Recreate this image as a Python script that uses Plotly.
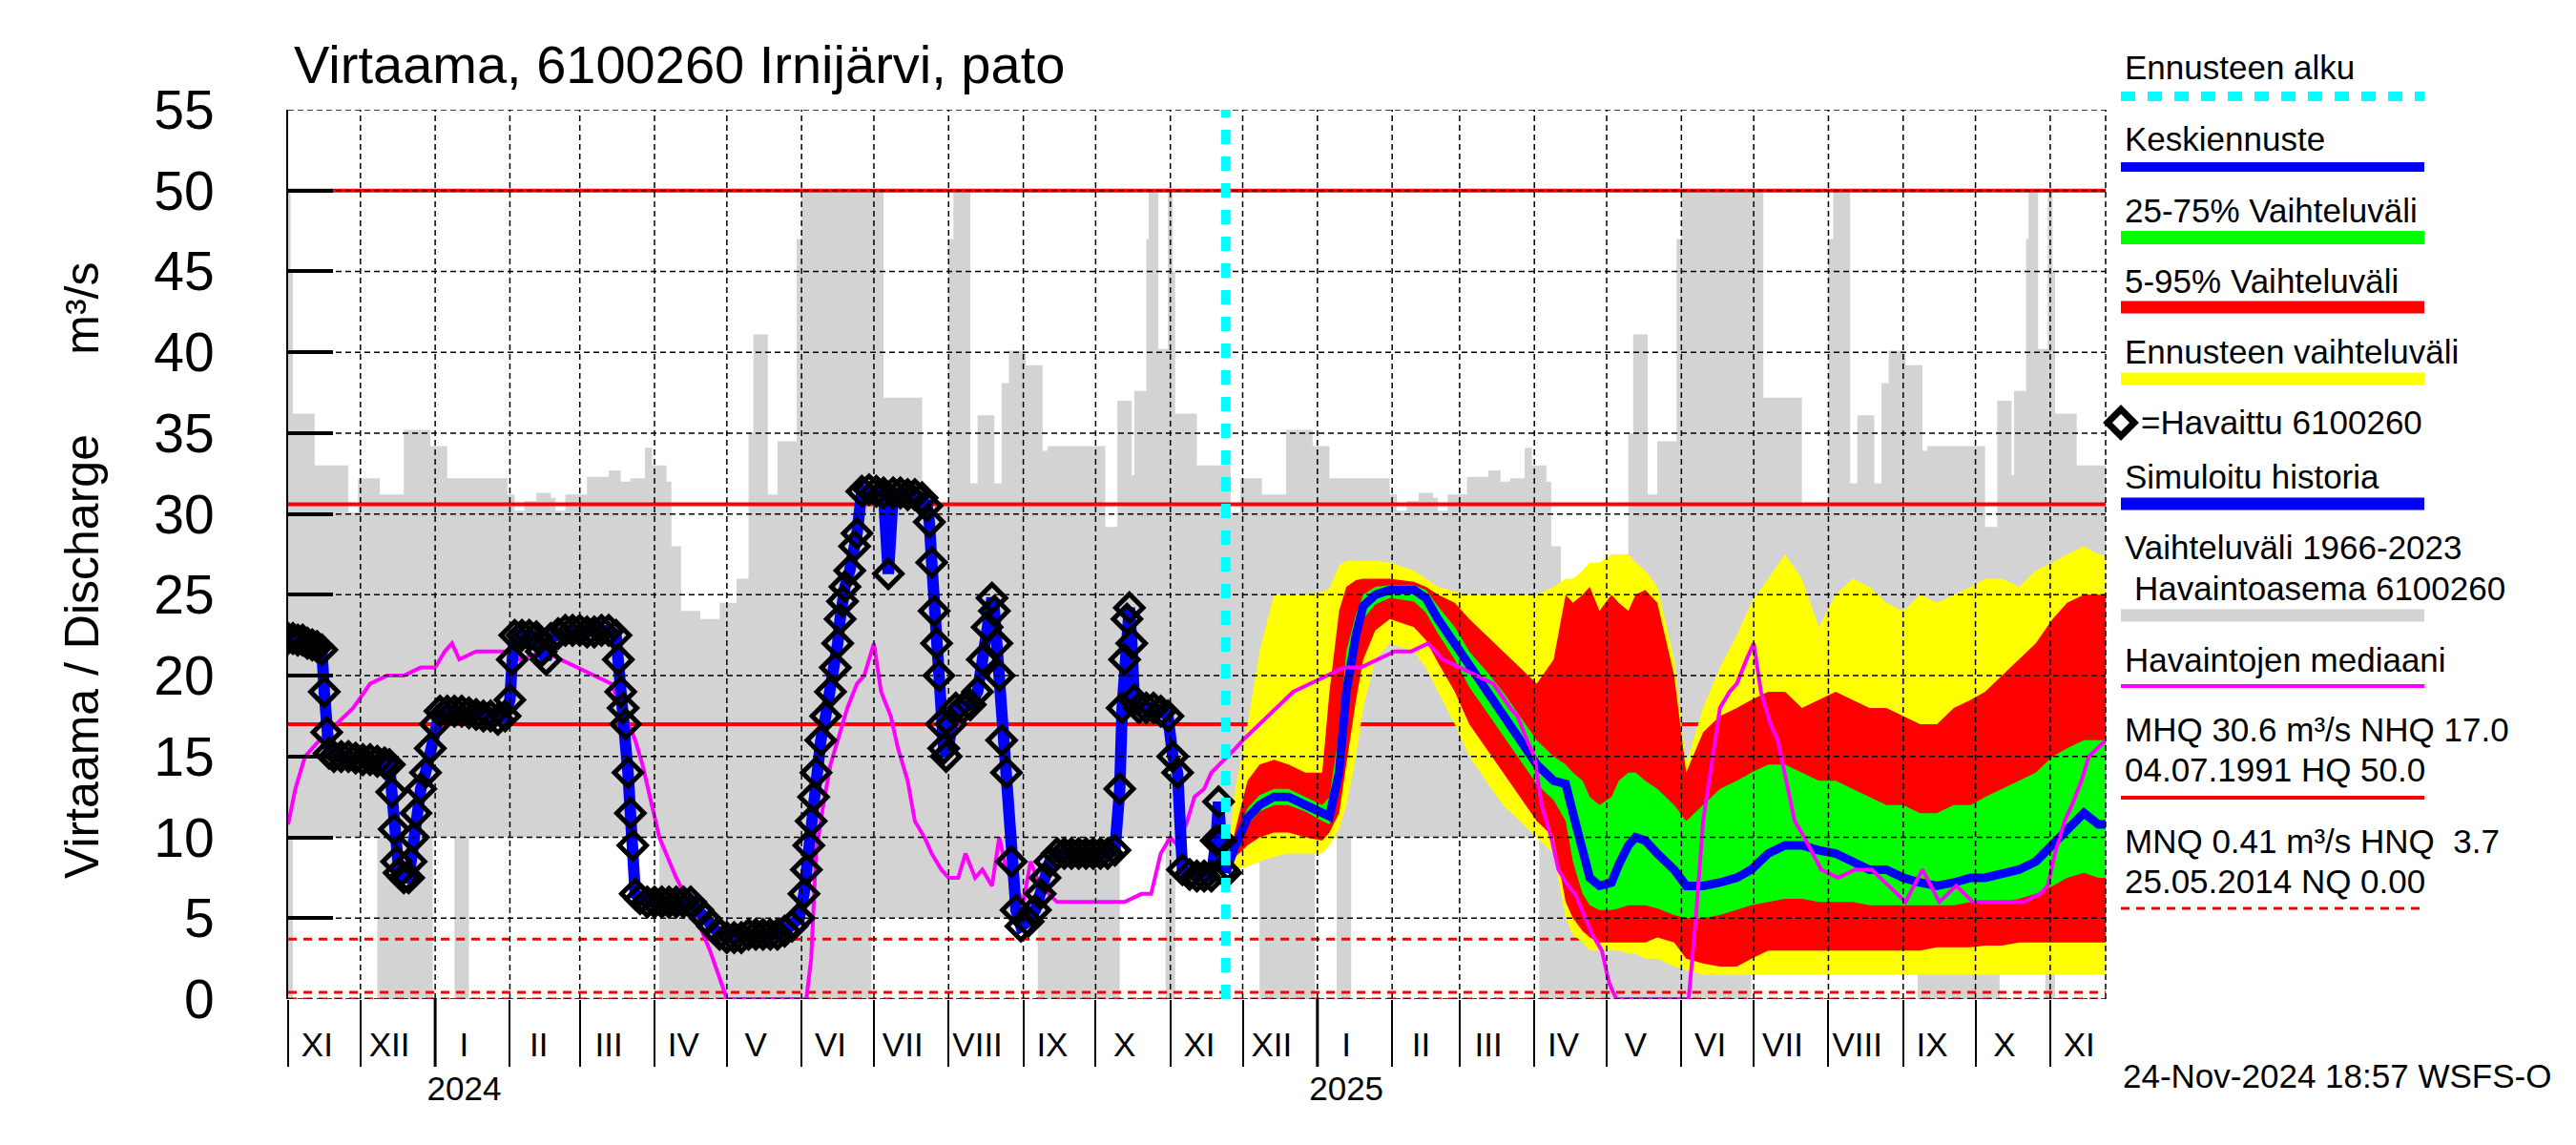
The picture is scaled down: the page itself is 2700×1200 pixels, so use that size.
import plotly.graph_objects as go
import pandas as pd

# ---------------- data ----------------
title_text = "Virtaama, 6100260 Irnijärvi, pato"
y_title = "Virtaama / Discharge" + "\u00a0" * 6 + "m³/s"
stamp_text = "24-Nov-2024 18:57 WSFS-O"
x_start = "2023-11-01"
x_end = "2025-11-24"
forecast_start = "2024-11-24"

y_ticks = [0, 5, 10, 15, 20, 25, 30, 35, 40, 45, 50, 55]
roman = ["I", "II", "III", "IV", "V", "VI", "VII", "VIII", "IX", "X", "XI", "XII"]

HQ, MHQ, NHQ = 50.0, 30.6, 17.0
HNQ, MNQ, NQ = 3.7, 0.41, 0.0

# historical range 1966-2023 (day-of-year profile, step values)
grey_up_profile = [
    ("11-01", 50.0), ("11-02", 45.0), ("11-03", 36.2), ("11-12", 33.0), ("11-26", 30.1),
    ("11-30", 32.2), ("12-09", 31.2), ("12-19", 35.2), ("12-30", 34.2), ("01-06", 32.2),
    ("01-31", 31.2), ("02-03", 30.2), ("02-07", 30.8), ("02-12", 31.3), ("02-18", 31.0),
    ("02-20", 30.2), ("02-24", 31.2), ("03-04", 32.3), ("03-13", 32.7), ("03-18", 32.0),
    ("03-22", 32.2), ("03-28", 34.1), ("03-31", 33.0), ("04-06", 32.0), ("04-08", 28.0),
    ("04-12", 24.0), ("04-20", 23.5), ("04-28", 24.5), ("05-05", 26.0), ("05-10", 35.0),
    ("05-12", 41.1), ("05-18", 31.2), ("05-22", 34.5), ("05-30", 47.0), ("06-01", 50.0),
    ("07-05", 37.2), ("07-21", 30.5), ("08-01", 47.0), ("08-03", 50.0), ("08-10", 31.9),
    ("08-13", 36.1), ("08-20", 31.9), ("08-23", 38.1), ("08-26", 40.1), ("09-02", 39.2),
    ("09-09", 33.9), ("09-11", 34.2), ("10-05", 29.2), ("10-10", 37.0), ("10-16", 32.4),
    ("10-17", 37.6), ("10-22", 47.0), ("10-23", 50.0), ("10-27", 40.2), ("10-31", 50.0),
]
grey_lo_profile = [
    ("11-01", 0.0), ("11-03", 10.0), ("12-08", 0.0), ("12-31", 10.0), ("01-09", 0.0),
    ("01-15", 10.0), ("04-03", 0.0), ("06-30", 5.0), ("09-07", 0.0), ("10-11", 10.0),
    ("10-30", 0.0),
]

# observed discharge 6100260
obs_dates = [
    "2023-11-01", "2023-11-03", "2023-11-05", "2023-11-07", "2023-11-09", "2023-11-11", "2023-11-13",
    "2023-11-15", "2023-11-16", "2023-11-17", "2023-11-18", "2023-11-20", "2023-11-23", "2023-11-26",
    "2023-11-29", "2023-12-02", "2023-12-05", "2023-12-08", "2023-12-11", "2023-12-13", "2023-12-14",
    "2023-12-15", "2023-12-16", "2023-12-17", "2023-12-19", "2023-12-21", "2023-12-22", "2023-12-23",
    "2023-12-24", "2023-12-26", "2023-12-28", "2023-12-30", "2024-01-01", "2024-01-03", "2024-01-06",
    "2024-01-09", "2024-01-12", "2024-01-15", "2024-01-18", "2024-01-21", "2024-01-24", "2024-01-27",
    "2024-01-30", "2024-02-01", "2024-02-02", "2024-02-03", "2024-02-06", "2024-02-09", "2024-02-12",
    "2024-02-14", "2024-02-16", "2024-02-18", "2024-02-21", "2024-02-24", "2024-02-27", "2024-03-01",
    "2024-03-04", "2024-03-07", "2024-03-10", "2024-03-13", "2024-03-16", "2024-03-17", "2024-03-18",
    "2024-03-19", "2024-03-20", "2024-03-21", "2024-03-22", "2024-03-23", "2024-03-24", "2024-03-26",
    "2024-03-29", "2024-04-01", "2024-04-04", "2024-04-07", "2024-04-10", "2024-04-13", "2024-04-16",
    "2024-04-19", "2024-04-22", "2024-04-25", "2024-04-28", "2024-05-01", "2024-05-04", "2024-05-07",
    "2024-05-10", "2024-05-13", "2024-05-16", "2024-05-19", "2024-05-22", "2024-05-25", "2024-05-28",
    "2024-05-31", "2024-06-02", "2024-06-03", "2024-06-04", "2024-06-05", "2024-06-06", "2024-06-07",
    "2024-06-09", "2024-06-11", "2024-06-13", "2024-06-15", "2024-06-16", "2024-06-17", "2024-06-18",
    "2024-06-19", "2024-06-21", "2024-06-23", "2024-06-24", "2024-06-26", "2024-06-29", "2024-07-02",
    "2024-07-05", "2024-07-07", "2024-07-09", "2024-07-12", "2024-07-15", "2024-07-18", "2024-07-21",
    "2024-07-23", "2024-07-24", "2024-07-25", "2024-07-26", "2024-07-27", "2024-07-28", "2024-07-29",
    "2024-07-30", "2024-07-31", "2024-08-02", "2024-08-04", "2024-08-07", "2024-08-10", "2024-08-13",
    "2024-08-15", "2024-08-17", "2024-08-19", "2024-08-20", "2024-08-21", "2024-08-22", "2024-08-23",
    "2024-08-25", "2024-08-27", "2024-08-29", "2024-08-31", "2024-09-03", "2024-09-06", "2024-09-08",
    "2024-09-10", "2024-09-12", "2024-09-15", "2024-09-18", "2024-09-21", "2024-09-24", "2024-09-27",
    "2024-09-30", "2024-10-03", "2024-10-06", "2024-10-09", "2024-10-11", "2024-10-12", "2024-10-13",
    "2024-10-14", "2024-10-15", "2024-10-16", "2024-10-17", "2024-10-19", "2024-10-22", "2024-10-25",
    "2024-10-28", "2024-10-31", "2024-11-02", "2024-11-04", "2024-11-06", "2024-11-09", "2024-11-12",
    "2024-11-15", "2024-11-18", "2024-11-20", "2024-11-21", "2024-11-22", "2024-11-23", "2024-11-24",
]
obs_q = [
    22.3, 22.3, 22.2, 22.2, 22.0, 21.9, 21.8,
    21.6, 19.0, 16.5, 15.2, 15.0, 15.0, 15.0,
    14.9, 14.8, 14.8, 14.7, 14.6, 14.5, 12.8,
    10.5, 8.5, 7.8, 7.5, 7.5, 8.5, 10.0,
    11.5, 13.0, 14.0, 15.5, 17.0, 17.8, 17.8,
    17.8, 17.8, 17.7, 17.6, 17.5, 17.5, 17.3,
    17.5, 18.5, 21.0, 22.5, 22.5, 22.5, 22.4,
    21.5, 21.0, 22.3, 22.6, 22.8, 22.8, 22.8,
    22.7, 22.7, 22.8, 22.8, 22.5, 21.0, 19.0,
    18.0, 17.0, 14.0, 11.5, 9.5, 6.5, 6.2,
    6.0, 6.0, 6.0, 6.0, 6.0, 6.0, 6.0,
    5.5, 5.0, 4.5, 4.0, 3.8, 3.8, 3.8,
    4.0, 4.0, 4.0, 4.0, 4.0, 4.2, 4.5,
    5.0, 6.5, 8.0, 9.5, 11.0, 12.5, 14.0,
    16.0, 17.5, 19.0, 20.5, 22.0, 23.5, 24.6,
    25.5, 26.5, 28.0, 28.8, 31.4, 31.5, 31.4,
    31.3, 26.3, 31.3, 31.3, 31.2, 31.2, 31.0,
    30.5, 29.5, 27.0, 24.0, 22.0, 20.0, 17.0,
    15.5, 15.0, 17.0, 18.0, 18.0, 18.2, 19.0,
    21.0, 23.0, 24.8, 24.0, 22.0, 20.0, 16.0,
    14.0, 8.5, 5.5, 4.5, 4.8, 5.5, 6.5,
    7.5, 8.5, 9.0, 9.0, 9.0, 9.0, 9.0,
    9.0, 9.0, 9.0, 9.2, 13.0, 18.0, 21.0,
    23.5, 24.2, 22.0, 18.5, 18.0, 18.0, 18.0,
    17.8, 17.5, 15.0, 14.0, 8.0, 7.7, 7.6,
    7.6, 7.6, 9.8, 12.2, 9.8, 8.0, 7.8,
]

# median of observations
med_dates = [
    "2023-11-01", "2023-11-04", "2023-11-08", "2023-11-14", "2023-11-21", "2023-11-28", "2023-12-05",
    "2023-12-12", "2023-12-19", "2023-12-26", "2024-01-01", "2024-01-05", "2024-01-08", "2024-01-11",
    "2024-01-18", "2024-01-25", "2024-02-01", "2024-02-05", "2024-02-15", "2024-02-22", "2024-02-29",
    "2024-03-07", "2024-03-14", "2024-03-20", "2024-03-24", "2024-03-27", "2024-03-31", "2024-04-03",
    "2024-04-10", "2024-04-17", "2024-04-24", "2024-05-01", "2024-06-03", "2024-06-05", "2024-06-07",
    "2024-06-10", "2024-06-13", "2024-06-17", "2024-06-20", "2024-06-24", "2024-06-27", "2024-07-01",
    "2024-07-04", "2024-07-08", "2024-07-11", "2024-07-15", "2024-07-18", "2024-07-22", "2024-07-25",
    "2024-07-29", "2024-08-01", "2024-08-05", "2024-08-08", "2024-08-12", "2024-08-15", "2024-08-19",
    "2024-08-22", "2024-08-25", "2024-09-01", "2024-09-04", "2024-09-08", "2024-09-15", "2024-09-22",
    "2024-09-29", "2024-10-06", "2024-10-13", "2024-10-20", "2024-10-24", "2024-10-28", "2024-11-01",
    "2024-11-04", "2024-11-08", "2024-11-11", "2024-11-15", "2024-11-18", "2024-11-25", "2024-11-28",
    "2024-12-01", "2024-12-08", "2024-12-15", "2024-12-22", "2024-12-29", "2025-01-05", "2025-01-12",
    "2025-01-19", "2025-01-26", "2025-02-02", "2025-02-09", "2025-02-16", "2025-02-22", "2025-03-01",
    "2025-03-08", "2025-03-15", "2025-03-22", "2025-03-25", "2025-03-29", "2025-04-01", "2025-04-04",
    "2025-04-08", "2025-04-11", "2025-04-15", "2025-04-18", "2025-04-22", "2025-04-25", "2025-04-29",
    "2025-05-02", "2025-05-05", "2025-06-04", "2025-06-07", "2025-06-10", "2025-06-14", "2025-06-17",
    "2025-06-21", "2025-06-24", "2025-06-28", "2025-07-01", "2025-07-04", "2025-07-08", "2025-07-11",
    "2025-07-15", "2025-07-18", "2025-07-22", "2025-07-29", "2025-08-05", "2025-08-12", "2025-08-19",
    "2025-08-26", "2025-09-02", "2025-09-09", "2025-09-16", "2025-09-23", "2025-09-30", "2025-10-07",
    "2025-10-14", "2025-10-21", "2025-10-28", "2025-10-31", "2025-11-03", "2025-11-07", "2025-11-10",
    "2025-11-14", "2025-11-17", "2025-11-24",
]
med_q = [
    10.8, 13.0, 15.0, 16.0, 17.0, 18.0, 19.5,
    20.0, 20.0, 20.5, 20.5, 21.5, 22.0, 21.0,
    21.5, 21.5, 21.5, 21.0, 21.5, 21.0, 20.5,
    20.0, 19.5, 17.5, 16.0, 14.5, 12.0, 10.0,
    7.5, 5.5, 3.0, 0.0, 0.0, 2.5, 9.0,
    12.0, 14.5, 16.5, 18.0, 19.5, 20.0, 22.0,
    19.0, 17.5, 15.5, 13.5, 11.0, 10.0, 9.0,
    8.0, 7.5, 7.5, 9.0, 7.5, 8.0, 7.0,
    10.0, 8.0, 6.0, 8.5, 7.0, 6.0, 6.0,
    6.0, 6.0, 6.0, 6.5, 6.5, 9.0, 10.0,
    9.5, 11.0, 12.5, 13.0, 14.0, 15.0, 15.5,
    16.0, 17.0, 18.0, 19.0, 19.5, 20.0, 20.5,
    20.5, 21.0, 21.5, 21.5, 22.0, 21.0, 20.5,
    20.0, 19.5, 18.0, 17.5, 16.0, 15.0, 12.0,
    10.0, 8.0, 7.0, 6.5, 5.0, 4.0, 3.0,
    1.0, 0.0, 0.0, 5.0, 11.0, 15.0, 18.0,
    19.0, 19.5, 21.0, 22.0, 19.0, 17.0, 16.0,
    13.0, 11.0, 10.0, 8.0, 7.5, 8.0, 8.0,
    7.0, 6.0, 8.0, 6.0, 7.0, 6.0, 6.0,
    6.0, 6.0, 6.5, 7.0, 9.0, 11.0, 12.0,
    13.5, 15.0, 16.0,
]

# forecast ensemble statistics
fc_dates = [
    "2024-11-24", "2024-11-28", "2024-12-03", "2024-12-08", "2024-12-14", "2024-12-20", "2024-12-27",
    "2025-01-03", "2025-01-06", "2025-01-10", "2025-01-13", "2025-01-17", "2025-01-20", "2025-01-25",
    "2025-01-31", "2025-02-10", "2025-02-15", "2025-02-20", "2025-02-27", "2025-03-05", "2025-03-12",
    "2025-03-19", "2025-03-26", "2025-04-02", "2025-04-09", "2025-04-14", "2025-04-17", "2025-04-21",
    "2025-04-24", "2025-04-28", "2025-05-03", "2025-05-06", "2025-05-10", "2025-05-13", "2025-05-17",
    "2025-05-22", "2025-05-29", "2025-06-03", "2025-06-10", "2025-06-17", "2025-06-24", "2025-06-30",
    "2025-07-07", "2025-07-14", "2025-07-21", "2025-07-28", "2025-08-04", "2025-08-11", "2025-08-18",
    "2025-08-25", "2025-09-01", "2025-09-08", "2025-09-15", "2025-09-22", "2025-09-29", "2025-10-05",
    "2025-10-12", "2025-10-19", "2025-10-26", "2025-11-02", "2025-11-08", "2025-11-15", "2025-11-21",
    "2025-11-24",
]
fc_min = [
    7.8, 8.0, 8.2, 8.5, 8.8, 9.0, 9.0,
    9.0, 9.5, 10.5, 12.0, 15.0, 18.0, 21.0,
    22.0, 21.5, 20.5, 19.0, 17.0, 15.0, 13.5,
    12.0, 11.0, 10.0, 9.0, 5.0, 4.0, 3.5,
    3.0, 3.0, 3.0, 3.0, 2.8, 2.8, 2.5,
    2.5, 2.0, 1.8, 1.5, 1.5, 1.5, 1.5,
    1.5, 1.5, 1.5, 1.5, 1.5, 1.5, 1.5,
    1.5, 1.5, 1.5, 1.5, 1.5, 1.5, 1.5,
    1.5, 1.5, 1.5, 1.5, 1.5, 1.5, 1.5,
    1.5,
]
fc_p05 = [
    7.8, 8.8, 9.5, 10.0, 10.3, 10.3, 10.0,
    9.8, 10.3, 11.5, 14.5, 18.5, 21.0, 22.8,
    23.5, 23.0, 22.2, 20.8, 19.0, 17.0, 15.5,
    14.0, 12.5, 11.0, 10.0, 6.0, 5.0, 4.2,
    3.8, 3.5, 3.5, 3.5, 3.5, 3.5, 3.5,
    3.8, 3.5, 2.5, 2.2, 2.0, 2.0, 2.5,
    3.0, 3.0, 3.0, 3.0, 3.0, 3.0, 3.0,
    3.0, 3.0, 3.0, 3.2, 3.2, 3.2, 3.3,
    3.3, 3.5, 3.5, 3.5, 3.5, 3.5, 3.5,
    3.5,
]
fc_p25 = [
    7.8, 9.2, 10.8, 11.6, 12.0, 12.0, 11.6,
    11.0, 10.8, 13.0, 17.5, 21.5, 23.5, 24.4,
    24.8, 24.6, 23.9, 22.6, 21.0, 19.3, 17.8,
    16.3, 14.8, 13.3, 12.3, 11.0, 8.5, 6.5,
    5.8, 5.5, 5.5, 5.6, 5.8, 5.8, 5.8,
    5.6, 5.2, 5.0, 5.0, 5.2, 5.5, 5.8,
    6.0, 6.2, 6.2, 6.0, 6.0, 6.0, 5.8,
    5.8, 5.8, 5.8, 5.8, 5.8, 6.0, 6.0,
    6.0, 6.2, 6.5, 7.0, 7.5, 7.8, 7.5,
    7.5,
]
fc_med = [
    7.8, 9.5, 11.2, 12.0, 12.5, 12.5, 12.0,
    11.5, 11.3, 14.0, 19.0, 22.5, 24.3, 25.0,
    25.3, 25.3, 24.8, 23.5, 22.0, 20.5, 19.0,
    17.5, 16.0, 14.5, 13.5, 13.3, 11.5, 9.0,
    7.5, 7.0, 7.2, 8.3, 9.5, 10.0, 9.8,
    9.0, 8.0, 7.0, 7.0, 7.2, 7.5, 8.0,
    9.0, 9.5, 9.5, 9.2, 9.0, 8.5, 8.0,
    8.0, 7.5, 7.2, 7.0, 7.2, 7.5, 7.5,
    7.8, 8.0, 8.5, 9.5, 10.5, 11.5, 10.8,
    10.8,
]
fc_p75 = [
    7.8, 9.9, 11.8, 12.6, 13.0, 13.0, 12.5,
    12.0, 12.5, 16.5, 21.5, 23.8, 25.0, 25.5,
    25.6, 25.6, 25.3, 24.3, 23.0, 21.5, 20.3,
    19.0, 17.5, 16.0, 15.0, 14.5, 14.0, 13.5,
    12.5, 12.0, 12.5, 13.5, 14.0, 14.0, 13.5,
    13.0, 12.0, 11.0, 12.0, 13.0, 13.5, 14.0,
    14.5, 14.5, 14.0, 13.5, 13.5, 13.0, 12.5,
    12.0, 12.0, 11.5, 11.5, 12.0, 12.0, 12.5,
    13.0, 13.5, 14.0, 15.0, 15.5, 16.0, 16.0,
    16.0,
]
fc_p95 = [
    7.8, 10.5, 13.5, 14.5, 14.8, 14.5, 14.0,
    14.0, 19.0, 24.0, 25.5, 25.9, 26.0, 26.0,
    26.0, 25.8, 25.5, 25.0, 24.5, 23.5, 22.5,
    21.5, 20.5, 19.5, 21.0, 25.0, 24.5, 25.0,
    25.5, 24.0, 25.0, 24.5, 24.0, 25.0, 25.3,
    24.5, 20.0, 14.0, 16.5, 17.5, 18.0, 18.5,
    19.0, 19.0, 18.0, 18.5, 19.0, 18.5, 18.0,
    18.0, 17.5, 17.0, 17.0, 18.0, 18.5, 19.0,
    20.0, 21.0, 22.0, 23.5, 24.5, 25.0, 25.0,
    25.0,
]
fc_max = [
    7.8, 13.0, 17.0, 21.5, 25.0, 25.0, 25.0,
    25.2, 25.4, 26.8, 27.1, 27.1, 27.1, 27.1,
    27.0, 26.5, 26.0, 25.5, 25.2, 25.0, 25.0,
    25.0, 25.0, 25.0, 25.5, 26.0, 26.0, 26.5,
    27.0, 27.0, 27.5, 27.5, 27.5, 27.0, 26.5,
    25.5, 21.0, 14.5, 18.0, 20.5, 22.5, 24.5,
    26.0, 27.5, 26.0, 23.0, 25.0, 26.0, 25.5,
    24.5, 24.0, 25.0, 24.5, 25.0, 25.5, 26.0,
    26.0, 25.5, 26.5, 27.0, 27.5, 28.0, 27.5,
    27.5,
]

# ---------------- geometry helpers ----------------
W, H = 2700, 1200
L, R, T, B = 302, 2207, 115, 1047
PW, PH = R - L, B - T
FONT = "Liberation Sans, Arial, Helvetica, sans-serif"


def fx(X):
    return (X - L) / PW


def fy(Y):
    return (B - Y) / PH


def season_series(profile, start_years, stop):
    xs, ys = [], []
    stop = pd.Timestamp(stop)
    for sy in start_years:
        for md, v in profile:
            m = int(md[:2])
            yr = sy if m >= 11 else sy + 1
            d = pd.Timestamp(f"{yr}-{md}")
            if d > stop:
                continue
            xs.append(d)
            ys.append(v)
    xs.append(stop)
    ys.append(ys[-1])
    return xs, ys


month_starts = list(pd.date_range(x_start, x_end, freq="MS"))
label_pos = [m + pd.Timedelta(days=12) for m in month_starts]
label_txt = [roman[m.month - 1] + (f"<br>{m.year}" if m.month == 1 else "") for m in month_starts]
year_starts = [m for m in month_starts if m.month == 1]

fig = go.Figure()

# grey historical band
gxl, gyl = season_series(grey_lo_profile, [2023, 2024, 2025], x_end)
gxu, gyu = season_series(grey_up_profile, [2023, 2024, 2025], x_end)
fig.add_trace(go.Scatter(x=gxl, y=gyl, mode="lines", line=dict(width=0, shape="hv", color="#D3D3D3"),
                         hoverinfo="skip", showlegend=False))
fig.add_trace(go.Scatter(x=gxu, y=gyu, mode="lines", line=dict(width=0, shape="hv", color="#D3D3D3"),
                         fill="tonexty", fillcolor="#D3D3D3", hoverinfo="skip", showlegend=False))

# reference levels
for v in (HQ, MHQ, NHQ):
    fig.add_trace(go.Scatter(x=[x_start, x_end], y=[v, v], mode="lines",
                             line=dict(color="#FF0000", width=4), hoverinfo="skip", showlegend=False))
for v in (HNQ, MNQ, NQ):
    fig.add_trace(go.Scatter(x=[x_start, x_end], y=[v, v], mode="lines",
                             line=dict(color="#FF0000", width=3, dash="9px,7px"), hoverinfo="skip",
                             showlegend=False))

# forecast bands
for lo, hi, col in ((fc_min, fc_max, "#FFFF00"), (fc_p05, fc_p95, "#FF0000"), (fc_p25, fc_p75, "#00FF00")):
    fig.add_trace(go.Scatter(x=fc_dates, y=lo, mode="lines", line=dict(width=0, color=col),
                             hoverinfo="skip", showlegend=False))
    fig.add_trace(go.Scatter(x=fc_dates, y=hi, mode="lines", line=dict(width=0, color=col),
                             fill="tonexty", fillcolor=col, hoverinfo="skip", showlegend=False))
fig.add_trace(go.Scatter(x=fc_dates, y=fc_med, mode="lines", line=dict(color="#0000FF", width=9),
                         showlegend=False))

# median of observations
fig.add_trace(go.Scatter(x=med_dates, y=med_q, mode="lines", line=dict(color="#FF00FF", width=4),
                         showlegend=False))

# simulated history + observations
fig.add_trace(go.Scatter(x=obs_dates, y=obs_q, mode="lines", line=dict(color="#0000FF", width=12),
                         showlegend=False))
fig.add_trace(go.Scatter(x=obs_dates, y=obs_q, mode="markers",
                         marker=dict(symbol="diamond-open", size=22, color="black",
                                     line=dict(width=5, color="black")),
                         showlegend=False))

shapes = []
# dashed grid on top
for m in month_starts[1:]:
    shapes.append(dict(type="line", xref="x", yref="y", x0=m, x1=m, y0=0, y1=55, layer="above",
                       line=dict(color="black", width=1.5, dash="6px,4px")))
shapes.append(dict(type="line", xref="paper", yref="y", x0=1, x1=1, y0=0, y1=55, layer="above",
                   line=dict(color="black", width=1.5, dash="6px,4px")))
for v in y_ticks:
    shapes.append(dict(type="line", xref="paper", yref="y", x0=0, x1=1, y0=v, y1=v, layer="above",
                       line=dict(color="black", width=1.5, dash="6px,4px")))
# forecast start
shapes.append(dict(type="line", xref="x", yref="y", x0=forecast_start, x1=forecast_start, y0=0, y1=55,
                   layer="above", line=dict(color="#00FFFF", width=10, dash="15px,13px")))
# year boundary ticks
for ys_ in year_starts:
    shapes.append(dict(type="line", xref="x", yref="paper", x0=ys_, x1=ys_, y0=0, y1=-(1118 - B) / PH,
                       line=dict(color="black", width=3)))

# legend (drawn manually)
LX0, LX1 = 2223, 2541
leg_lines = [
    (101, 10, "#00FFFF", "15px,13px"),
    (175, 10, "#0000FF", None),
    (249, 14, "#00FF00", None),
    (322, 13, "#FF0000", None),
    (397, 13, "#FFFF00", None),
    (528, 13, "#0000FF", None),
    (645, 13, "#D3D3D3", None),
    (719, 4, "#FF00FF", None),
    (836, 4, "#FF0000", None),
    (952, 3, "#FF0000", "9px,7px"),
]
for yy, wdt, col, dsh in leg_lines:
    ln = dict(color=col, width=wdt)
    if dsh:
        ln["dash"] = dsh
    shapes.append(dict(type="line", xref="paper", yref="paper", x0=fx(LX0), x1=fx(LX1), y0=fy(yy), y1=fy(yy),
                       line=ln))
# diamond symbol of observations
dcx, dcy, dr = 2223, 443, 14
shapes.append(dict(type="path", xref="paper", yref="paper",
                   path=f"M {fx(dcx - dr)},{fy(dcy)} L {fx(dcx)},{fy(dcy - dr)} L {fx(dcx + dr)},{fy(dcy)} "
                        f"L {fx(dcx)},{fy(dcy + dr)} Z",
                   line=dict(color="black", width=7), fillcolor="rgba(0,0,0,0)"))

leg_texts = [
    ("Ennusteen alku", 2225, 83),
    ("Keskiennuste", 2225, 158),
    ("25-75% Vaihteluväli", 2225, 232),
    ("5-95% Vaihteluväli", 2225, 306),
    ("Ennusteen vaihteluväli", 2225, 380),
    ("=Havaittu 6100260", 2242, 454),
    ("Simuloitu historia", 2225, 512),
    ("Vaihteluväli 1966-2023", 2225, 585),
    ("Havaintoasema 6100260", 2235, 628),
    ("Havaintojen mediaani", 2225, 703),
    ("MHQ 30.6 m³/s NHQ 17.0", 2225, 776),
    ("04.07.1991 HQ 50.0", 2225, 818),
    ("MNQ 0.41 m³/s HNQ\u00a0\u00a03.7", 2225, 893),
    ("25.05.2014 NQ 0.00", 2225, 935),
    (stamp_text, 2223, 1139),
]
annotations = []
for txt, xx, bl in leg_texts:
    annotations.append(dict(text=txt, xref="paper", yref="paper", x=fx(xx), y=fy(bl - 12),
                            xanchor="left", yanchor="middle", showarrow=False,
                            font=dict(family=FONT, size=35, color="black")))
annotations.append(dict(text=y_title, xref="paper", yref="paper", x=fx(86), y=fy(598), textangle=-90,
                        xanchor="center", yanchor="middle", showarrow=False,
                        font=dict(family=FONT, size=50, color="black")))

fig.update_layout(
    width=W, height=H, autosize=False,
    margin=dict(l=L, r=W - R, t=T, b=H - B, pad=0),
    paper_bgcolor="white", plot_bgcolor="white",
    showlegend=False,
    font=dict(family=FONT, color="black"),
    title=dict(text=title_text, xref="paper", x=fx(308), xanchor="left", yref="container",
               y=1 - 67 / H, yanchor="middle", font=dict(family=FONT, size=56, color="black")),
    shapes=shapes,
    annotations=annotations,
    xaxis=dict(type="date", range=[x_start, x_end], tickvals=label_pos, ticktext=label_txt,
               ticks="", showgrid=False, zeroline=False, showline=False,
               tickfont=dict(family=FONT, size=35, color="black"), ticklabelstandoff=24,
               minor=dict(tickvals=month_starts, ticks="outside", ticklen=70, tickwidth=1.5,
                          tickcolor="black", showgrid=False)),
    yaxis=dict(range=[0, 55], tickvals=y_ticks, ticks="inside", ticklen=47, tickwidth=4, tickcolor="black",
               showline=True, linecolor="black", linewidth=2, showgrid=False, zeroline=False,
               tickfont=dict(family=FONT, size=57, color="black"), ticklabelstandoff=64),
)

fig.write_html("out.html", config={"displayModeBar": False},
               post_script="document.body.style.margin='0';")
